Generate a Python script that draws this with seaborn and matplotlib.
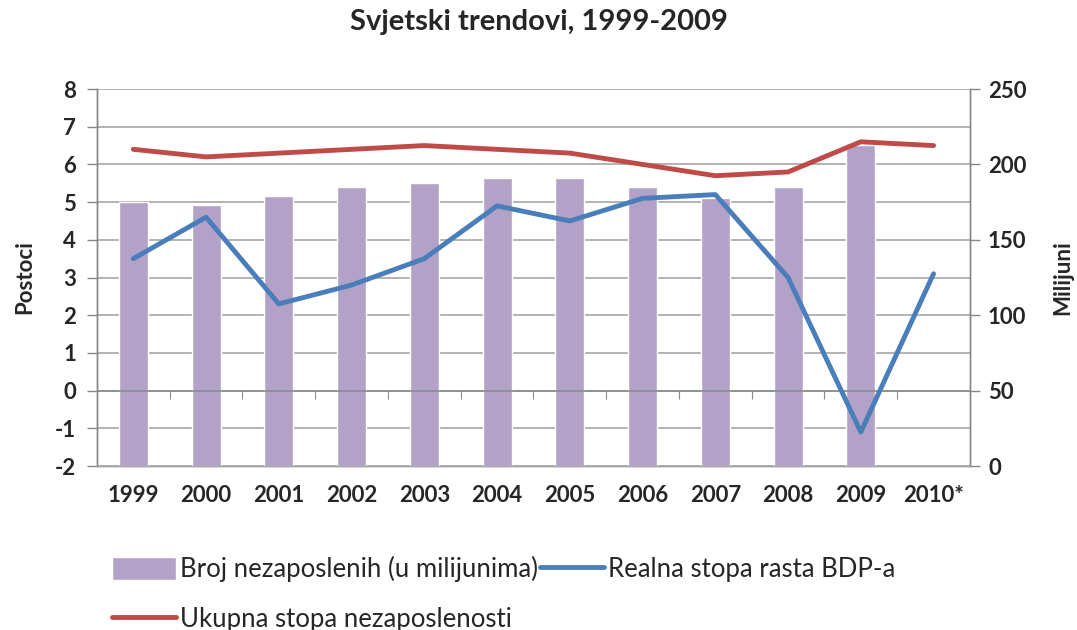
import numpy as np
import pandas as pd
import matplotlib
matplotlib.use("Agg")
import matplotlib.pyplot as plt
import seaborn as sns

# data
years = ["1999", "2000", "2001", "2002", "2003", "2004", "2005", "2006", "2007", "2008", "2009", "2010*"]
unemployed_mil = [175, 173, 179, 185, 188, 191, 191, 185, 178, 185, 213, np.nan]
gdp_growth = [3.5, 4.6, 2.3, 2.8, 3.5, 4.9, 4.5, 5.1, 5.2, 3.0, -1.1, 3.1]
unemp_rate = [6.4, 6.2, 6.3, 6.4, 6.5, 6.4, 6.3, 6.0, 5.7, 5.8, 6.6, 6.5]

sns.set_style("white")
plt.rcParams["font.family"] = ["Lato", "DejaVu Sans"]
plt.rcParams["axes.unicode_minus"] = False

purple = "#B3A2C7"
blue = "#4A7EBB"
red = "#BE4B48"
grid_col = "#A6A6A6"

df = pd.DataFrame({"year": years, "broj": unemployed_mil,
                   "bdp": gdp_growth, "stopa": unemp_rate})
df["pos"] = np.arange(len(years))

fig = plt.figure(figsize=(10.77, 6.3), dpi=100)
ax = fig.add_axes([0.090, 0.2603, 0.8106, 0.5984])
ax2 = ax.twinx()

# bars on the right (millions) axis, drawn underneath
sns.barplot(data=df, x="pos", y="broj", ax=ax2, color=purple, saturation=1,
            width=0.4, native_scale=True, label="Broj nezaposlenih (u milijunima)")
ax2.set_ylim(0, 250)
ax2.set_yticks(np.arange(0, 251, 50))
ax2.set_yticks(np.arange(0, 251, 25), minor=True)
ax2.set_axisbelow(True)
ax2.grid(axis="y", which="both", color=grid_col, lw=1.2)
ax2.tick_params(axis="y", which="minor", length=0)
ax2.tick_params(axis="y", which="major", right=True, length=7, width=1,
                color="#868686", labelsize=16, pad=6)
for t in ax2.get_yticklabels():
    t.set_fontweight("bold")
ax2.set_ylabel("Milijuni", fontsize=16, fontweight="bold")
ax2.yaxis.set_label_coords(1.094, 0.5)

# lines on the left (percent) axis, drawn on top
ax.set_zorder(ax2.get_zorder() + 1)
ax.patch.set_visible(False)
sns.lineplot(data=df, x="pos", y="stopa", ax=ax, color=red, lw=3.5,
             sort=False, label="Ukupna stopa nezaposlenosti")
sns.lineplot(data=df, x="pos", y="bdp", ax=ax, color=blue, lw=3.5,
             sort=False, label="Realna stopa rasta BDP-a")
ax.axhline(0, color="#8C8C8C", lw=1.2, zorder=1)
ax.set_ylim(-2, 8)
ax.set_yticks(np.arange(-2, 9, 1))
ax.set_xlim(-0.5, len(years) - 0.5)
ax.set_xticks(df["pos"])
ax.set_xticklabels(years)
ax.tick_params(axis="x", length=0, labelsize=16, pad=14)
ax.tick_params(axis="y", left=True, length=7, width=1, color="#868686",
               labelsize=16, pad=8)
for t in ax.get_xticklabels() + ax.get_yticklabels():
    t.set_fontweight("bold")
ax.set_ylabel("Postoci", fontsize=16, fontweight="bold")
ax.yaxis.set_label_coords(-0.071, 0.5)
ax.set_xlabel("")
ax2.set_xlabel("")

for a in (ax, ax2):
    for s in a.spines.values():
        s.set_color("#868686")
        s.set_linewidth(1)
ax.spines["top"].set_visible(False)
ax2.spines["top"].set_visible(False)
ax.spines["bottom"].set_color(grid_col)

# small category-divider ticks along the zero line
sec = ax.secondary_xaxis(0.2)
sec.set_xticks(np.arange(len(years) - 1) + 0.5)
sec.set_xticklabels([])
sec.spines["bottom"].set_visible(False)
sec.tick_params(axis="x", length=6, color="#8C8C8C", direction="out")

# legend below
h1, l1 = ax2.get_legend_handles_labels()
h2, l2 = ax.get_legend_handles_labels()
if ax.legend_:
    ax.legend_.remove()
if ax2.legend_:
    ax2.legend_.remove()
handles = [h1[0], h2[0], h2[1]]
labels = [l1[0], l2[0], l2[1]]
fig.legend(handles, labels, ncol=2, loc="upper left", bbox_to_anchor=(0.094, 0.134),
           frameon=False, fontsize=18.5, handlelength=2.5, handleheight=1.0,
           handletextpad=0.15, columnspacing=0.1, labelspacing=0.95,
           borderaxespad=0)

fig.suptitle("Svjetski trendovi, 1999-2009", fontsize=21, fontweight="bold",
             y=0.985, va="top")

fig.savefig("out.png", dpi=100)
